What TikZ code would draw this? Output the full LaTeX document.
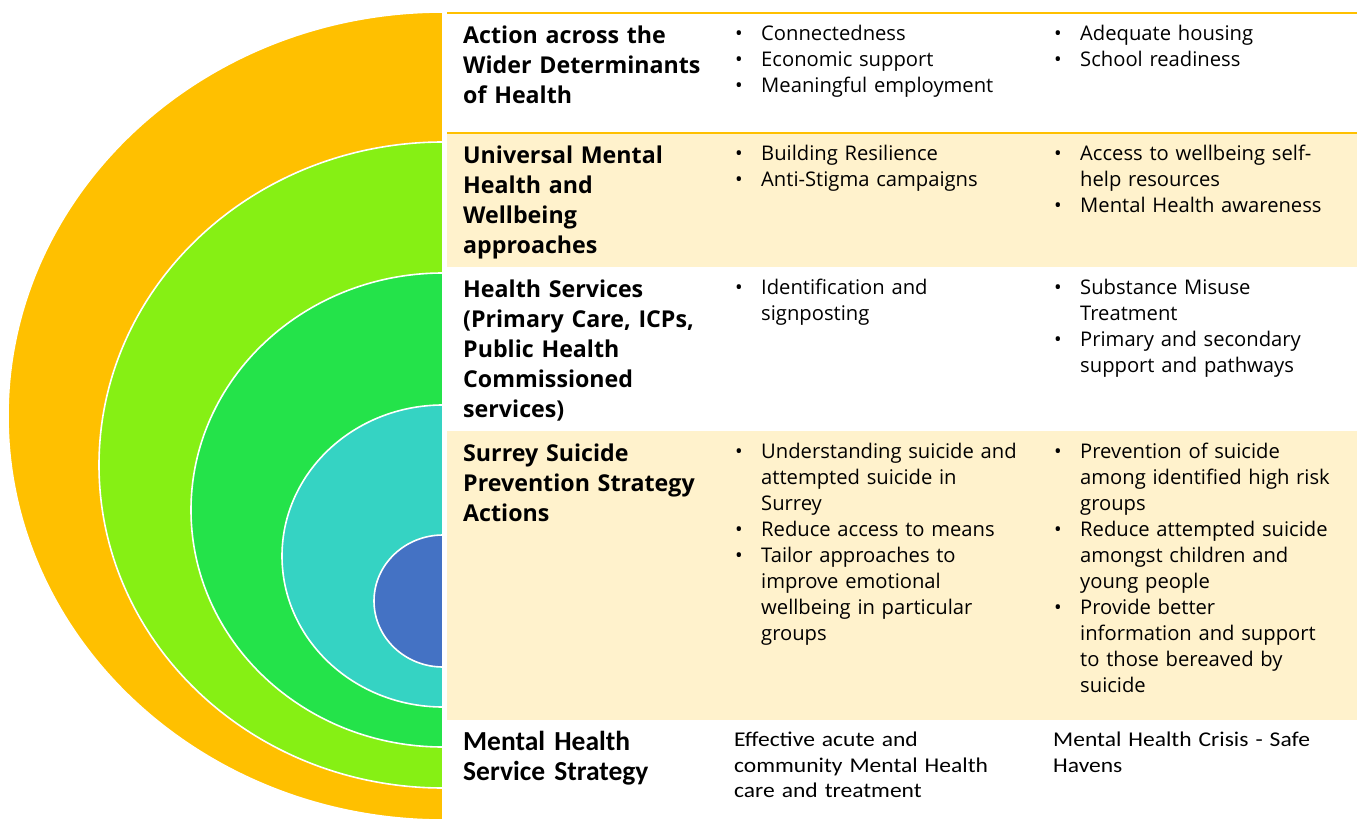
\documentclass[tikz,border=0pt]{standalone}
\usepackage{fontspec}
\setmainfont{Open Sans}
\newfontfamily\calibri{Carlito}
\newfontfamily\calibriwide[FakeStretch=1.12]{Carlito}
\usetikzlibrary{positioning}

\definecolor{ringA}{HTML}{FFC000}
\definecolor{ringB}{HTML}{86F014}
\definecolor{ringC}{HTML}{24E34A}
\definecolor{ringD}{HTML}{35D3C3}
\definecolor{ringE}{HTML}{4472C4}
\definecolor{rowfill}{HTML}{FFF2CC}
\definecolor{rowline}{HTML}{FFC000}

% one bullet item with hanging indent
\newcommand{\bitem}[1]{\hangindent=26pt\hangafter=1\noindent\makebox[26pt][l]{\textbullet}#1\par}
% left half of an ellipse: colour, centre y, x radius, y radius
\newcommand{\halfring}[4]{%
  \filldraw[fill=#1,draw=white,line width=1.6pt] (443,#2+#4) arc[start angle=90,end angle=270,x radius=#3,y radius=#4] -- cycle;}

\begin{document}
\begin{tikzpicture}[x=1pt,y=-1pt,
  head/.style={anchor=north west,inner sep=0pt,text width=260pt,align=left,font=\fontsize{23.2}{30}\selectfont\bfseries},
  cell/.style={anchor=north west,inner sep=0pt,text width=300pt,align=left,font=\fontsize{20.2}{26}\selectfont},
  chead/.style={anchor=north west,inner sep=0pt,text width=260pt,align=left,font=\calibri\fontsize{27.5}{30}\selectfont\bfseries},
  ccell/.style={anchor=north west,inner sep=0pt,text width=300pt,align=left,font=\calibriwide\fontsize{21}{25.5}\selectfont}]
  \useasboundingbox (0,0) rectangle (1357,821);

  % table rows
  \fill[rowfill] (447,133) rectangle (1357,267);
  \fill[rowfill] (447,431) rectangle (1357,720);
  \draw[rowline,line width=1.6pt] (447,13) -- (1357,13);
  \draw[rowline,line width=1.6pt] (447,133) -- (1357,133);

  % nested rings
  \halfring{ringA}{416}{435}{404}
  \halfring{ringB}{465}{344}{323}
  \halfring{ringC}{510}{252}{237}
  \halfring{ringD}{556}{161}{151}
  \halfring{ringE}{601}{69}{66}

  % row 1
  \node[head] (h1) at (463,26) {Action across the\\Wider Determinants\\of Health};
  \node[cell] (a1) at (735,25) {\bitem{Connectedness}\bitem{Economic support}\bitem{Meaningful employment}};
  \node[cell] (b1) at (1054,25) {\bitem{Adequate housing}\bitem{School readiness}};

  % row 2
  \node[head] (h2) at (463,146) {Universal Mental\\Health and\\Wellbeing\\approaches};
  \node[cell] (a2) at (735,145) {\bitem{Building Resilience}\bitem{Anti-Stigma campaigns}};
  \node[cell] (b2) at (1054,145) {\bitem{Access to wellbeing self-\newline help resources}\bitem{Mental Health awareness}};

  % row 3
  \node[head] (h3) at (463,280) {Health Services\\(Primary Care, ICPs,\\Public Health\\Commissioned\\services)};
  \node[cell] (a3) at (735,279) {\bitem{Identification and\newline signposting}};
  \node[cell] (b3) at (1054,279) {\bitem{Substance Misuse\newline Treatment}\bitem{Primary and secondary\newline support and pathways}};

  % row 4
  \node[head] (h4) at (463,444) {Surrey Suicide\\Prevention Strategy\\Actions};
  \node[cell] (a4) at (735,443) {\bitem{Understanding suicide and\newline attempted suicide in\newline Surrey}\bitem{Reduce access to means}\bitem{Tailor approaches to\newline improve emotional\newline wellbeing in particular\newline groups}};
  \node[cell] (b4) at (1054,443) {\bitem{Prevention of suicide\newline among identified high risk\newline groups}\bitem{Reduce attempted suicide\newline amongst children and\newline young people}\bitem{Provide better\newline information and support\newline to those bereaved by\newline suicide}};

  % row 5
  \node[chead] (h5) at (463,731) {Mental Health\\Service Strategy};
  \node[ccell] (a5) at (734,732) {Effective acute and\\community Mental Health\\care and treatment};
  \node[ccell] (b5) at (1053,732) {Mental Health Crisis - Safe\\Havens};
\end{tikzpicture}
\end{document}
